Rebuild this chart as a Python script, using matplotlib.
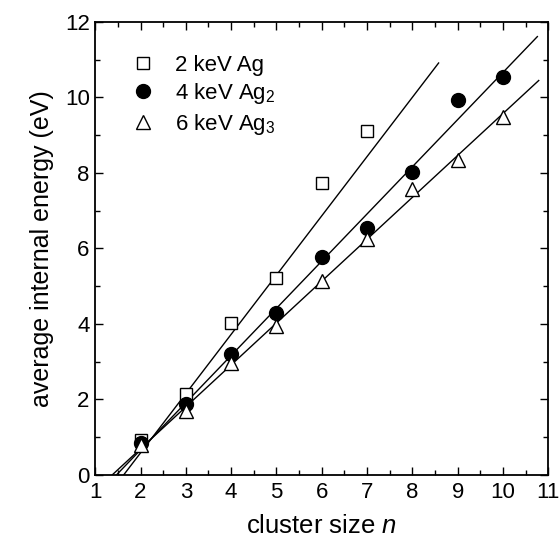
import numpy as np
import matplotlib
matplotlib.use("Agg")
import matplotlib.pyplot as plt
from matplotlib.ticker import MultipleLocator

plt.rcParams['font.family'] = ['Liberation Sans', 'DejaVu Sans']
plt.rcParams['mathtext.fontset'] = 'custom'
plt.rcParams['mathtext.rm'] = 'Liberation Sans'
plt.rcParams['mathtext.it'] = 'Liberation Sans:italic'

# measured internal energies vs cluster size
n_ag1 = [2, 3, 4, 5, 6, 7]
e_ag1 = [0.91, 2.14, 4.03, 5.21, 7.74, 9.11]

n_ag2 = [2, 3, 4, 5, 6, 7, 8, 9, 10]
e_ag2 = [0.85, 1.87, 3.21, 4.28, 5.77, 6.53, 8.03, 9.93, 10.55]

n_ag3 = [2, 3, 4, 5, 6, 7, 8, 9, 10]
e_ag3 = [0.79, 1.70, 2.97, 3.95, 5.14, 6.25, 7.57, 8.34, 9.49]

# linear fits: slope, intercept and drawn n-range for each projectile
fit_slope = [1.57, 1.25, 1.11]
fit_intercept = [-2.56, -1.84, -1.53]
fit_range = [(1.63, 8.58), (1.47, 10.76), (1.38, 10.79)]

labels = ["2 keV Ag", "4 keV Ag$_2$", "6 keV Ag$_3$"]

fig = plt.figure(figsize=(5.6, 5.47), dpi=100)
ax = fig.add_axes([0.170, 0.132, 0.809, 0.828])

ax.plot(n_ag1, e_ag1, ls='none', marker='s', ms=8, mfc='white', mec='black',
        mew=1.0, label=labels[0], zorder=3)
ax.plot(n_ag2, e_ag2, ls='none', marker='o', ms=10, mfc='black', mec='black',
        label=labels[1], zorder=3)
ax.plot(n_ag3, e_ag3, ls='none', marker='^', ms=10.5, mfc='white', mec='black',
        mew=1.0, label=labels[2], zorder=3)

for k, b, (x0, x1) in zip(fit_slope, fit_intercept, fit_range):
    xs = np.array([x0, x1])
    ax.plot(xs, k * xs + b, color='black', lw=1.0, zorder=2)

ax.set_xlim(1, 11)
ax.set_ylim(0, 12)
ax.xaxis.set_major_locator(MultipleLocator(1))
ax.xaxis.set_minor_locator(MultipleLocator(0.5))
ax.yaxis.set_major_locator(MultipleLocator(2))
ax.yaxis.set_minor_locator(MultipleLocator(1))
ax.tick_params(which='both', direction='in', top=True, right=True,
               labelsize=16, width=1.0)
ax.tick_params(which='major', length=6)
ax.tick_params(which='minor', length=3.5)
ax.tick_params(axis='x', pad=5)
ax.tick_params(axis='y', pad=4)
for s in ax.spines.values():
    s.set_linewidth(1.3)

ax.set_xlabel("cluster size $\\mathit{n}$", fontsize=18.5, labelpad=8)
ax.set_ylabel("average internal energy (eV)", fontsize=18, labelpad=8)

ax.legend(loc='upper left', bbox_to_anchor=(0.077, 0.927), frameon=False,
          fontsize=16, handletextpad=0.8, labelspacing=0.24,
          handlelength=1.2, borderaxespad=0, borderpad=0)

fig.savefig("out.png", dpi=100)
